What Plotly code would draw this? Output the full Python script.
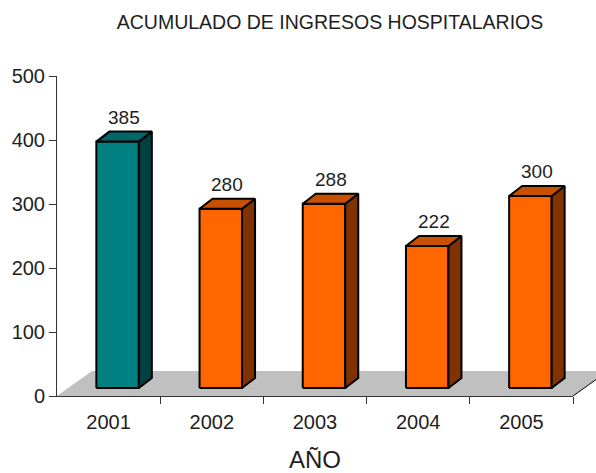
import plotly.graph_objects as go

# ---- data ----
years = ["2001", "2002", "2003", "2004", "2005"]
values = [385, 280, 288, 222, 300]
y_ticks = [0, 100, 200, 300, 400, 500]

# ---- styling / geometry constants (pixels converted to data units) ----
W, H = 596, 473
ML, MR, MT, MB = 57, 0, 76, 77
PLOT_W = W - ML - MR
PLOT_H = H - MT - MB
X_AXIS_END_PX = 573            # where the category axis ends
CAT_PX = (X_AXIS_END_PX - ML) / len(years)
Y_MAX = 500
PY = PLOT_H / Y_MAX             # px per y unit

ux = lambda px: px / CAT_PX
uy = lambda px: px / PY

FRONT_DX = ux(9)
FRONT_BASE = uy(8)
HALF_W = ux(21.25)
DEPTH_X = ux(13)
DEPTH_Y = uy(10)
FLOOR_DX = ux(35)
FLOOR_DY = uy(25)

front_cols = ["#008080"] + ["#FF6600"] * 4
top_cols = ["#006666"] + ["#C85000"] * 4
side_cols = ["#004040"] + ["#803300"] * 4

FONT = "Liberation Sans, Arial, sans-serif"
TXT = "#1e1e1e"

fig = go.Figure()

# floor
x0, x1 = -0.5, len(years) - 0.5
fig.add_trace(go.Scatter(
    x=[x0, x1, x1 + FLOOR_DX, x0 + FLOOR_DX, x0],
    y=[0, 0, FLOOR_DY, FLOOR_DY, 0],
    fill="toself", fillcolor="#C0C0C0", mode="none",
    hoverinfo="skip", showlegend=False, xaxis="x", yaxis="y"))
fig.add_trace(go.Scatter(
    x=[x1, x1 + FLOOR_DX], y=[0, FLOOR_DY], mode="lines",
    line=dict(color="#000000", width=1), hoverinfo="skip",
    showlegend=False, xaxis="x", yaxis="y"))

# bars
for i, v in enumerate(values):
    cx = i + FRONT_DX
    l, r = cx - HALF_W, cx + HALF_W
    b, t = FRONT_BASE, FRONT_BASE + v
    line = dict(color="#000000", width=2)
    # front
    fig.add_trace(go.Scatter(
        x=[l, r, r, l, l], y=[b, b, t, t, b], fill="toself",
        fillcolor=front_cols[i], mode="lines", line=line,
        hoverinfo="skip", showlegend=False))
    # side
    fig.add_trace(go.Scatter(
        x=[r, r + DEPTH_X, r + DEPTH_X, r, r],
        y=[b, b + DEPTH_Y, t + DEPTH_Y, t, b], fill="toself",
        fillcolor=side_cols[i], mode="lines", line=line,
        hoverinfo="skip", showlegend=False))
    # top
    fig.add_trace(go.Scatter(
        x=[l, r, r + DEPTH_X, l + DEPTH_X, l],
        y=[t, t, t + DEPTH_Y, t + DEPTH_Y, t], fill="toself",
        fillcolor=top_cols[i], mode="lines", line=line,
        hoverinfo="skip", showlegend=False))
    fig.add_annotation(
        x=cx + DEPTH_X / 2, y=t + DEPTH_Y, xref="x", yref="y",
        text=str(v), showarrow=False, yanchor="bottom", yshift=2,
        font=dict(family=FONT, size=19, color=TXT))

# invisible trace to hold category axis
fig.add_trace(go.Scatter(
    x=[0], y=[0], mode="markers", marker=dict(opacity=0),
    hoverinfo="skip", showlegend=False, xaxis="x2", yaxis="y"))

fig.update_layout(
    width=W, height=H,
    margin=dict(l=ML, r=MR, t=MT, b=MB),
    paper_bgcolor="white", plot_bgcolor="rgba(0,0,0,0)",
    title=dict(text="ACUMULADO DE INGRESOS HOSPITALARIOS",
               x=330 / W, xref="container", xanchor="center",
               y=1 - 22 / H, yref="container", yanchor="middle",
               font=dict(family=FONT, size=19.5, color=TXT)),
    xaxis=dict(range=[x0, x0 + PLOT_W / CAT_PX], visible=False,
               domain=[0, 1], anchor="y", fixedrange=True),
    xaxis2=dict(range=[x0, x1], domain=[0, (X_AXIS_END_PX - ML) / PLOT_W],
                anchor="y", showline=True, linecolor="#333333", linewidth=1,
                showgrid=False, zeroline=False,
                tickvals=list(range(len(years))), ticktext=years, ticks="",
                ticklabelstandoff=8,
                minor=dict(tickvals=[i + 0.5 for i in range(len(years))],
                           ticks="outside", ticklen=7, tickcolor="#333333",
                           showgrid=False),
                tickfont=dict(family=FONT, size=20, color=TXT),
                title=dict(text="AÑO", font=dict(family=FONT, size=24, color=TXT),
                           standoff=25),
                automargin=False, fixedrange=True),
    yaxis=dict(range=[0, Y_MAX], tickvals=y_ticks, showline=True,
               linecolor="#333333", linewidth=1, ticks="outside", ticklen=7,
               tickcolor="#333333", showgrid=False, zeroline=False,
               tickfont=dict(family=FONT, size=20, color=TXT),
               anchor="x", automargin=False, fixedrange=True),
    showlegend=False,
)

fig.write_html("out.html", config={"displayModeBar": False},
               post_script="document.body.style.margin='0px';")
